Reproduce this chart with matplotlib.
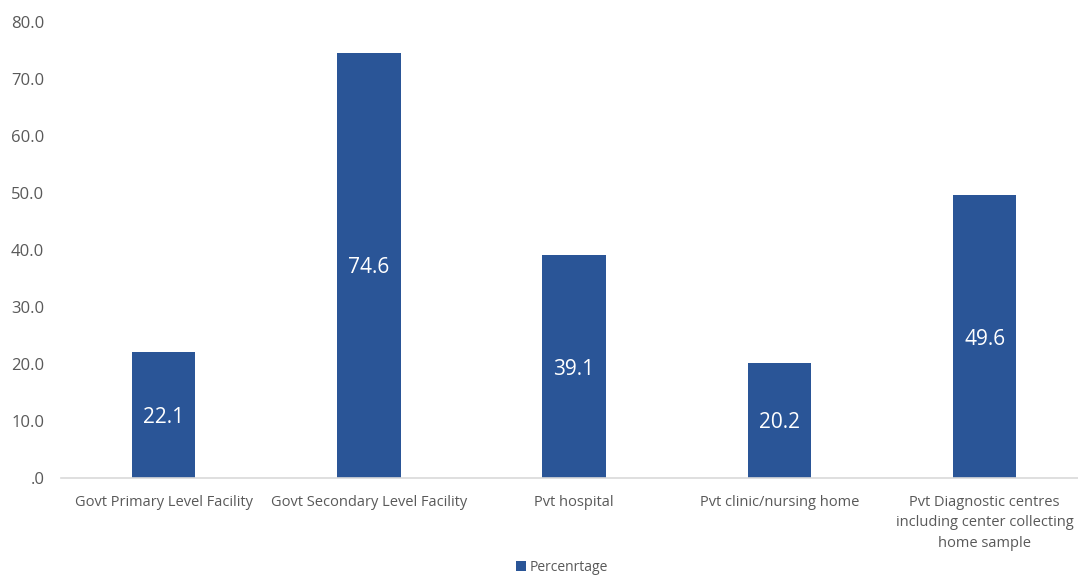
import matplotlib.pyplot as plt
import numpy as np

categories = [
    "Govt Primary Level Facility",
    "Govt Secondary Level Facility",
    "Pvt hospital",
    "Pvt clinic/nursing home",
    "Pvt Diagnostic centres\nincluding center collecting\nhome sample",
]
values = [22.1, 74.6, 39.1, 20.2, 49.6]
yticks = [0, 10, 20, 30, 40, 50, 60, 70, 80]
ytick_labels = [".0", "10.0", "20.0", "30.0", "40.0", "50.0", "60.0", "70.0", "80.0"]
series_name = "Percenrtage"

plt.rcParams["font.family"] = ["Open Sans", "DejaVu Sans"]
bar_color = "#2A5597"
text_color = "#595959"

fig = plt.figure(figsize=(10.78, 5.76), dpi=100)
W, H = 1078, 576
# axes: left 61px, baseline at y=478, top (80) at y=22
ax = fig.add_axes([61 / W, (H - 478) / H, (W - 61) / W, (478 - 22) / H])

x = np.arange(len(categories))
bars = ax.bar(x, values, width=0.31, color=bar_color, label=series_name, zorder=2)

for rect, v in zip(bars, values):
    ax.text(rect.get_x() + rect.get_width() / 2, v / 2, f"{v:.1f}",
            ha="center", va="center_baseline", color="white", fontsize=15)

ax.set_ylim(0, 80)
ax.set_xlim(-0.5, 4.455)
ax.set_yticks(yticks)
ax.set_yticklabels(ytick_labels, color=text_color, fontsize=12)
ax.set_xticks(x)
ax.set_xticklabels(categories, color=text_color, fontsize=10.5, linespacing=1.5, va="top")
ax.tick_params(axis="both", length=0)
ax.tick_params(axis="x", pad=12)
ax.tick_params(axis="y", pad=12)

for side in ["left", "right", "top"]:
    ax.spines[side].set_visible(False)
ax.spines["bottom"].set_color("#D9D9D9")
ax.spines["bottom"].set_linewidth(1.2)

fig.legend(handles=[bars], labels=[series_name], loc="center",
           bbox_to_anchor=(562 / W, (H - 567.5) / H), frameon=False,
           fontsize=10, handlelength=0.7, handleheight=0.7, handletextpad=0.3,
           labelcolor=text_color)

fig.savefig("out.png", dpi=100)
